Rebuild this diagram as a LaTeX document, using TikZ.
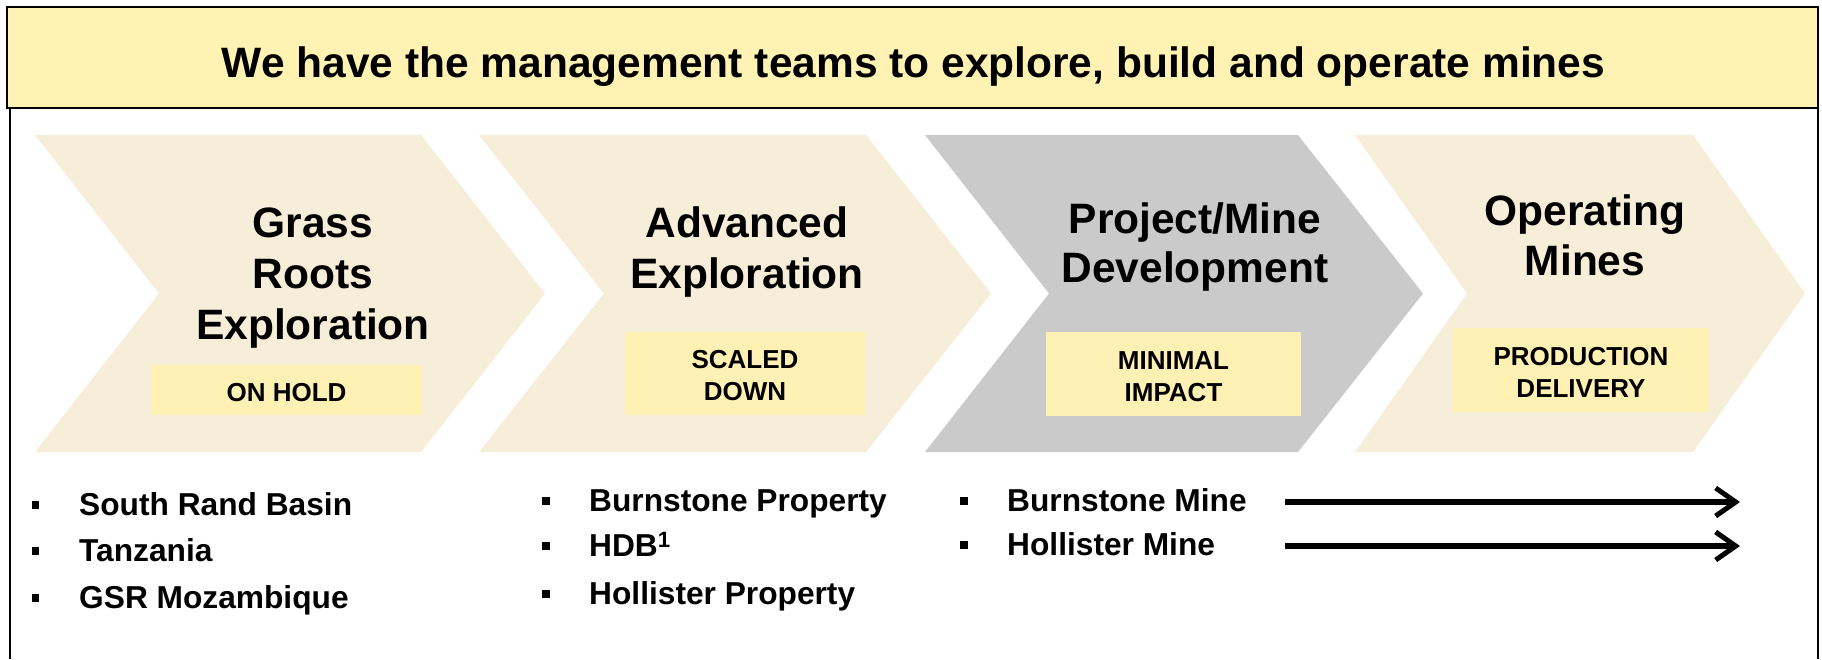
\documentclass[tikz,border=0pt]{standalone}
\usepackage{fontspec}
\setmainfont{Liberation Sans}
\usetikzlibrary{arrows.meta}
\definecolor{bannerfill}{HTML}{FFF2B3}
\definecolor{stagetan}{HTML}{F7EEDA}
\definecolor{stagegray}{HTML}{CACACA}
\definecolor{tagfill}{HTML}{FFF0B4}
\begin{document}
\begin{tikzpicture}[x=1pt,y=-1pt,
  stagetitle/.style={font=\fontsize{42.5}{51}\selectfont\bfseries, align=center, inner sep=0, anchor=north},
  tagbox/.style={fill=tagfill, inner sep=0},
  tagtext/.style={inner sep=0, font=\fontsize{26}{32}\selectfont\bfseries, align=center},
  item/.style={font=\fontsize{31.7}{38}\selectfont\bfseries, anchor=base west, inner sep=0},
  bulletsq/.style={fill=black, minimum width=7.5pt, minimum height=8.5pt, inner sep=0},
  framestroke/.style={line width=2pt, draw=black},
  flow/.style={line width=6pt, -{Straight Barb[length=20pt,width=28pt,line width=5pt]}}
]
\useasboundingbox (0,0) rectangle (1822,659);
\fill[white] (0,0) rectangle (1822,659);

% side rules of the frame
\draw[framestroke] (10,108) -- (10,659);
\draw[framestroke] (1818,108) -- (1818,659);

% headline banner
\node[draw=black, line width=2.5pt, fill=bannerfill, minimum width=1811pt, minimum height=101pt,
      inner sep=0] (banner) at (912.5,57.5) {};
\node[inner sep=0, anchor=base, font=\fontsize{42.5}{51}\selectfont\bfseries] (headline) at (913.5,77)
  {We have the management teams to explore, build and operate mines};

% stage chevrons
\fill[stagetan] (35,135) -- (421,135) -- (545,293.5) -- (421,452) -- (35,452) -- (159,293.5) -- cycle;
\fill[stagetan] (479,135) -- (866,135) -- (991,293.5) -- (866,452) -- (479,452) -- (604,293.5) -- cycle;
\fill[stagegray] (925,135) -- (1298,135) -- (1423,293.5) -- (1298,452) -- (925,452) -- (1049,293.5) -- cycle;
\fill[stagetan] (1355,135) -- (1693,135) -- (1805,293.5) -- (1693,452) -- (1355,452) -- (1467,293.5) -- cycle;

% stage titles
\node[stagetitle] (t1) at (313,208) {Grass\\Roots\\Exploration};
\node[stagetitle] (t2) at (747,206) {Advanced\\Exploration};
\node[stagetitle, font=\fontsize{42.5}{49}\selectfont\bfseries] (t3) at (1195,202) {Project/Mine\\Development};
\node[stagetitle, font=\fontsize{42.5}{50}\selectfont\bfseries] (t4) at (1585,194) {Operating\\Mines};

% status tags
\node[tagbox, minimum width=271pt, minimum height=50pt] (s1) at (286.5,390) {};
\node[tagbox, minimum width=240pt, minimum height=83pt] (s2) at (745,373.5) {};
\node[tagbox, minimum width=255pt, minimum height=84pt] (s3) at (1173.5,374) {};
\node[tagbox, minimum width=256pt, minimum height=84pt] (s4) at (1581,370) {};
\node[tagtext] (s1t) at ([yshift=-2.5pt]s1.center) {ON HOLD};
\node[tagtext] (s2t) at ([yshift=-2.5pt]s2.center) {SCALED\\DOWN};
\node[tagtext] (s3t) at ([yshift=-2.5pt]s3.center) {MINIMAL\\IMPACT};
\node[tagtext] (s4t) at ([yshift=-2.5pt]s4.center) {PRODUCTION\\DELIVERY};

% assets per stage
\node[bulletsq] (b11) at (35.5,505) {};
\node[item] (i11) at (79,515.5) {South Rand Basin};
\node[bulletsq] (b12) at (35.5,551) {};
\node[item] (i12) at (79,561.5) {Tanzania};
\node[bulletsq] (b13) at (35.5,598) {};
\node[item] (i13) at (79,608.5) {GSR Mozambique};

\node[bulletsq] (b21) at (546,501) {};
\node[item] (i21) at (589,511.5) {Burnstone Property};
\node[bulletsq] (b22) at (546,546) {};
\node[item] (i22) at (589,556.5) {HDB\textsuperscript{1}};
\node[bulletsq] (b23) at (546,594) {};
\node[item] (i23) at (589,604.5) {Hollister Property};

\node[bulletsq] (b31) at (964,501) {};
\node[item] (i31) at (1007,511.5) {Burnstone Mine};
\node[bulletsq] (b32) at (964,545) {};
\node[item] (i32) at (1007,555.5) {Hollister Mine};

% progression arrows
\coordinate (a1s) at (1285,502);
\coordinate (a1e) at (1740,502);
\coordinate (a2s) at (1285,546);
\coordinate (a2e) at (1740,546);
\draw[flow] (a1s) -- (a1e);
\draw[flow] (a2s) -- (a2e);
\end{tikzpicture}
\end{document}
